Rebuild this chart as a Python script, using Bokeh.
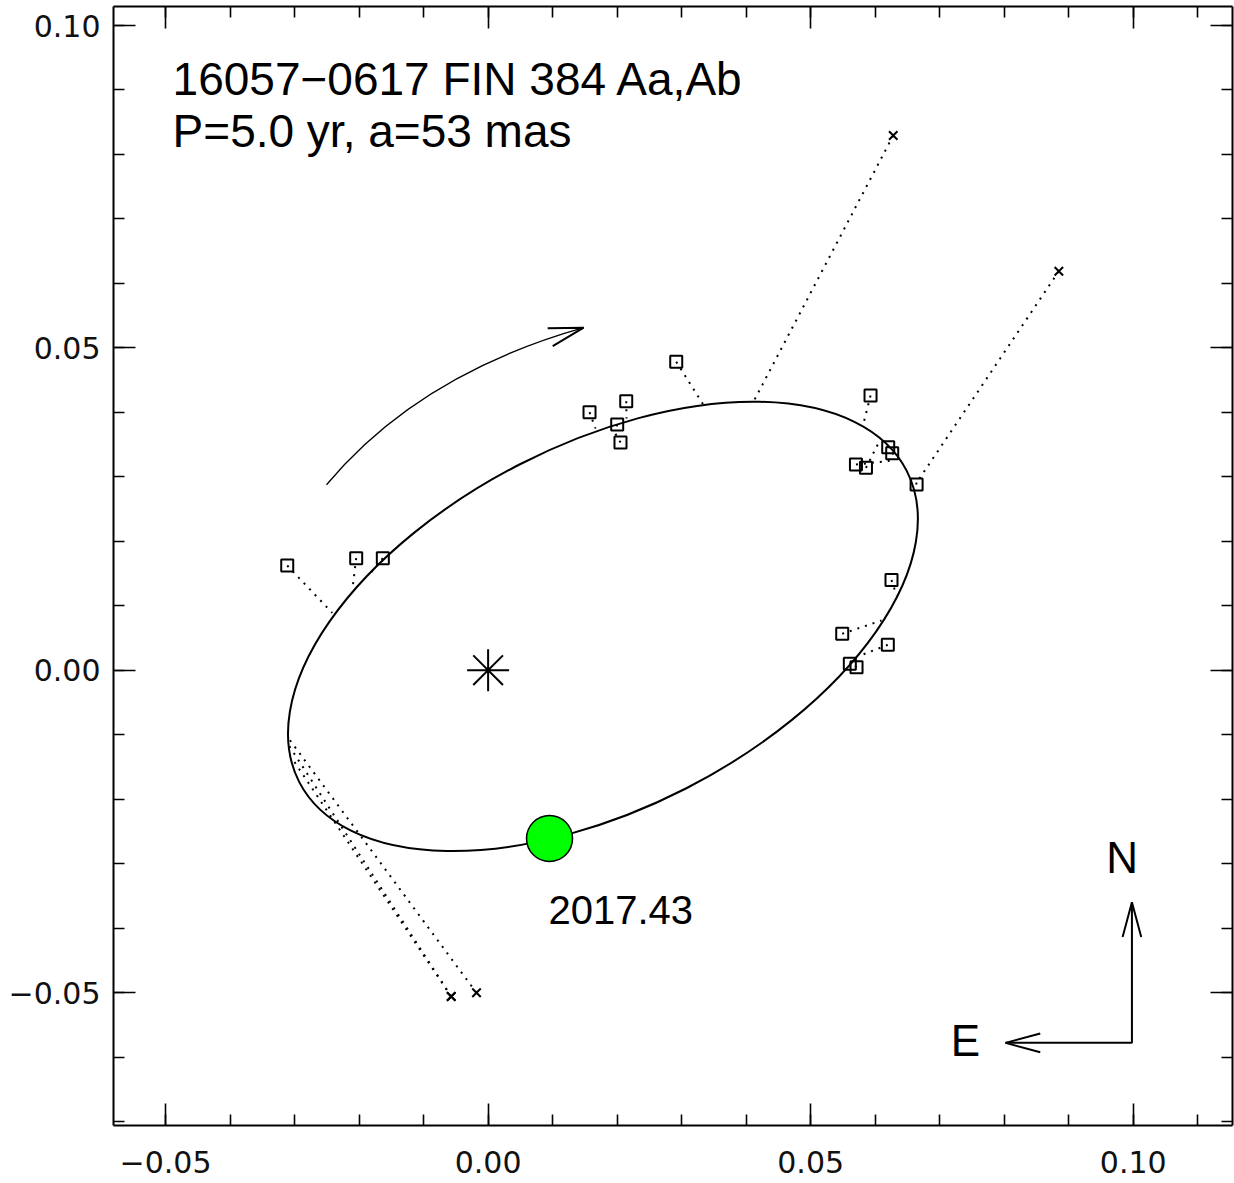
import numpy as np
from bokeh.plotting import figure
from bokeh.models import (LinearAxis, SingleIntervalTicker, CustomJSTickFormatter,
                          Range1d, Label)
from bokeh.embed import file_html
from bokeh.resources import INLINE

# ---------------- data ----------------
title_line1 = "16057\u22120617 FIN 384 Aa,Ab"
title_line2 = "P=5.0 yr, a=53 mas"

# apparent orbit ellipse (centre, full axes, position angle of major axis)
orbit_cx, orbit_cy = 0.0178, 0.0068
orbit_major, orbit_minor = 0.1058, 0.0565
orbit_angle_deg = 27.1

# measured positions (squares) and their predicted positions on the orbit
obs_x = [-0.03114, -0.02045, -0.01632, 0.01572, 0.02141, 0.02001, 0.02052,
         0.02916, 0.05928, 0.06202, 0.06264, 0.05702, 0.05857, 0.06642,
         0.06253, 0.05489, 0.06196, 0.05607, 0.05711]
obs_y = [0.01624, 0.01737, 0.01737, 0.04002, 0.04172, 0.03811, 0.03532,
         0.04784, 0.04261, 0.03459, 0.03366, 0.03190, 0.03139, 0.02880,
         0.01399, 0.00565, 0.00394, 0.00099, 0.00047]
pred_x = [-0.02417, -0.02102, -0.01854, 0.01665, 0.02145, 0.01990, 0.01944,
          0.03344, 0.05824, 0.06140, 0.06286, 0.06240, 0.06050, 0.06620,
          0.06332, 0.06098, 0.05799, 0.05631, 0.05662]
pred_y = [0.00890, 0.01267, 0.01469, 0.03749, 0.03904, 0.03780, 0.03718,
          0.04106, 0.03847, 0.03497, 0.03350, 0.03250, 0.03521, 0.02990,
          0.01159, 0.00771, 0.00239, 0.00119, 0.00088]

# rejected measurements (crosses) and their predicted positions
rej_x = [0.06280, 0.08847, -0.00572, -0.00180, -0.00572]
rej_y = [0.08294, 0.06189, -0.05061, -0.05004, -0.05061]
rej_pred_x = [0.04099, 0.06650, -0.03048, -0.03079, -0.03087]
rej_pred_y = [0.04137, 0.02920, -0.01354, -0.01077, -0.01168]

# primary star
star_x, star_y = [0.0], [0.0]

# current epoch
epoch_x, epoch_y = [0.00952], [-0.02611]
epoch_label = "2017.43"

# sense-of-motion arrow (quadratic curve)
motion_start = (-0.02505, 0.02877)
motion_ctrl = (-0.01079, 0.04587)
motion_end = (0.01481, 0.05313)

# compass
compass_origin = (0.0998, -0.0578)
compass_north_len = 0.0218
compass_east_len = 0.0196

# ---------------- figure ----------------
X0, X1 = -0.05807, 0.11539
Y0, Y1 = -0.07062, 0.10295
FW, FH = 1119, 1119
SX = FW / (X1 - X0)
SY = FH / (Y1 - Y0)
LIFT = 0.0025  # text baseline correction

p = figure(frame_width=FW, frame_height=FH,
           x_range=Range1d(X0, X1), y_range=Range1d(Y0, Y1),
           output_backend="svg", toolbar_location=None,
           min_border_left=113, min_border_right=2,
           min_border_top=6, min_border_bottom=56)
p.outline_line_color = None
p.xgrid.visible = False
p.ygrid.visible = False
p.background_fill_color = "white"
p.border_fill_color = "white"

bottom = p.below[0]
left = p.left[0]

fmt = CustomJSTickFormatter(code="""
const v = Math.abs(tick) < 1e-9 ? 0 : tick;
return (v < 0 ? '\u2212' : '') + Math.abs(v).toFixed(2);
""")
blank = CustomJSTickFormatter(code="return '';")

top = LinearAxis(formatter=blank)
right = LinearAxis(formatter=blank)
p.add_layout(top, "above")
p.add_layout(right, "right")

for ax in [bottom, left, top, right]:
    ax.ticker = SingleIntervalTicker(interval=0.05, num_minor_ticks=5)
    ax.axis_line_color = "black"
    ax.axis_line_width = 2
    ax.major_tick_in = 22
    ax.major_tick_out = 0
    ax.minor_tick_in = 11
    ax.minor_tick_out = 0
    ax.major_tick_line_width = 1.6
    ax.minor_tick_line_width = 1.6
    ax.major_tick_line_color = "black"
    ax.minor_tick_line_color = "black"
    ax.major_label_text_font = "DejaVu Sans"
    ax.major_label_text_font_size = "30px"
    ax.major_label_text_color = "#111111"

for ax in [bottom, left]:
    ax.formatter = fmt
for ax in [top, right]:
    ax.major_label_standoff = 0

bottom.major_label_standoff = 25
left.major_label_standoff = 13

# residual lines
p.segment(x0=obs_x, y0=obs_y, x1=pred_x, y1=pred_y,
          line_color="black", line_width=2, line_dash="2 6")
p.segment(x0=rej_x, y0=rej_y, x1=rej_pred_x, y1=rej_pred_y,
          line_color="black", line_width=2, line_dash="2 6")

# orbit
p.ellipse(x=[orbit_cx], y=[orbit_cy], width=[orbit_major], height=[orbit_minor],
          angle=np.radians(orbit_angle_deg), fill_color=None,
          line_color="black", line_width=2)

# measurements
p.scatter(obs_x, obs_y, marker="square", size=12, fill_color=None,
          line_color="black", line_width=2)
p.scatter(rej_x, rej_y, marker="x", size=12, line_color="black", line_width=2)

# primary
p.scatter(star_x, star_y, marker="asterisk", size=42, line_color="black",
          line_width=2)

# epoch
p.scatter(epoch_x, epoch_y, marker="circle", size=46, fill_color="#00ff00",
          line_color="black", line_width=1.5)
p.add_layout(Label(x=epoch_x[0] - 0.00016, y=epoch_y[0] - 0.01364 + LIFT,
                   text=epoch_label, text_font="Liberation Sans",
                   text_font_size="40px", text_color="black",
                   text_align="left", text_baseline="alphabetic"))


def head(tx, ty, bx, by, length=36.0, half=15.0):
    dx, dy = bx * SX, by * SY
    n = np.hypot(dx, dy)
    dx, dy = dx / n, dy / n
    xs, ys = [], []
    for s in (1, -1):
        a = np.radians(half) * s
        rx = dx * np.cos(a) - dy * np.sin(a)
        ry = dx * np.sin(a) + dy * np.cos(a)
        xs.append(tx + rx * length / SX)
        ys.append(ty + ry * length / SY)
    return [xs[0], tx, xs[1]], [ys[0], ty, ys[1]]


# sense of motion arrow
p.quadratic(x0=[motion_start[0]], y0=[motion_start[1]],
            x1=[motion_end[0]], y1=[motion_end[1]],
            cx=[motion_ctrl[0]], cy=[motion_ctrl[1]],
            line_color="black", line_width=1.3)
hx, hy = head(motion_end[0], motion_end[1],
              motion_ctrl[0] - motion_end[0], motion_ctrl[1] - motion_end[1])

# compass
ox, oy = compass_origin
ntip = (ox, oy + compass_north_len)
etip = (ox - compass_east_len, oy)
p.line([etip[0], ox, ntip[0]], [etip[1], oy, ntip[1]],
       line_color="black", line_width=2)
nx_, ny_ = head(ntip[0], ntip[1], 0, -1)
ex_, ey_ = head(etip[0], etip[1], 1, 0)
p.multi_line([hx, nx_, ex_], [hy, ny_, ey_], line_color="black", line_width=2)

p.add_layout(Label(x=ntip[0] - 0.0015, y=ntip[1] + 0.00444 + LIFT, text="N",
                   text_font="Liberation Sans", text_font_size="44px",
                   text_color="black", text_align="center",
                   text_baseline="alphabetic"))
p.add_layout(Label(x=etip[0] - 0.0062, y=oy - 0.00207 + LIFT, text="E",
                   text_font="Liberation Sans", text_font_size="44px",
                   text_color="black", text_align="center",
                   text_baseline="alphabetic"))

# title
for txt, yy in [(title_line1, 0.08925), (title_line2, 0.08112)]:
    p.add_layout(Label(x=-0.04891, y=yy + LIFT, text=txt,
                       text_font="Liberation Sans",
                       text_font_size="46px", text_color="black",
                       text_align="left", text_baseline="alphabetic"))

open("out.html", "w").write(file_html(p, INLINE))
